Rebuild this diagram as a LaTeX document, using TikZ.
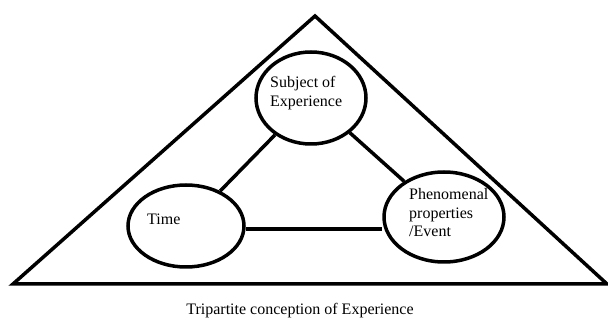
\documentclass[tikz,border=0pt]{standalone}
\usepackage{fontspec}
\setmainfont{Liberation Serif}
\usepackage{tikz}
\usetikzlibrary{shapes,positioning,calc}

\begin{document}
\begin{tikzpicture}[
    x=1pt, y=-1pt,
    outline/.style={line width=3.5pt, line join=miter},
    bubble/.style={ellipse, draw, line width=3.5pt, inner sep=0pt},
    link/.style={line width=3.5pt},
    lbl/.style={anchor=west, align=left, inner sep=0pt, font=\fontsize{16}{18.5}\selectfont}
]
\useasboundingbox (0,0) rectangle (608,320);

% Outer triangle
\coordinate (apex) at (315,16);
\coordinate (left) at (13,284);
\coordinate (right) at (607,284);
\draw[outline] (apex) -- (right) -- (left) -- cycle;

% Circles
\node[bubble, minimum width=110pt, minimum height=92pt] (subj) at (311,98) {};
\node[bubble, minimum width=116pt, minimum height=82pt] (time) at (186,226) {};
\node[bubble, minimum width=120pt, minimum height=90pt] (event) at (444,217) {};

% Texts
\node[lbl] (subjtext) at ($(subj.center)+(-41,-5)$) {Subject of\\Experience};
\node[lbl] (timetext) at ($(time.center)+(-39,-7)$) {Time};
\node[lbl] (eventtext) at ($(event.center)+(-35,-4)$) {Phenomenal\\properties\\/Event};

% Links
\draw[link] (subj) -- (time);
\draw[link] (subj) -- (event);
\draw[link] ([yshift=-3pt]time.east) -- ([yshift=-3pt]time.east -| event.west);

% Caption
\node[font=\fontsize{16}{18}\selectfont, inner sep=0pt] (caption) at (300,311) {Tripartite conception of Experience};

\end{tikzpicture}
\end{document}
